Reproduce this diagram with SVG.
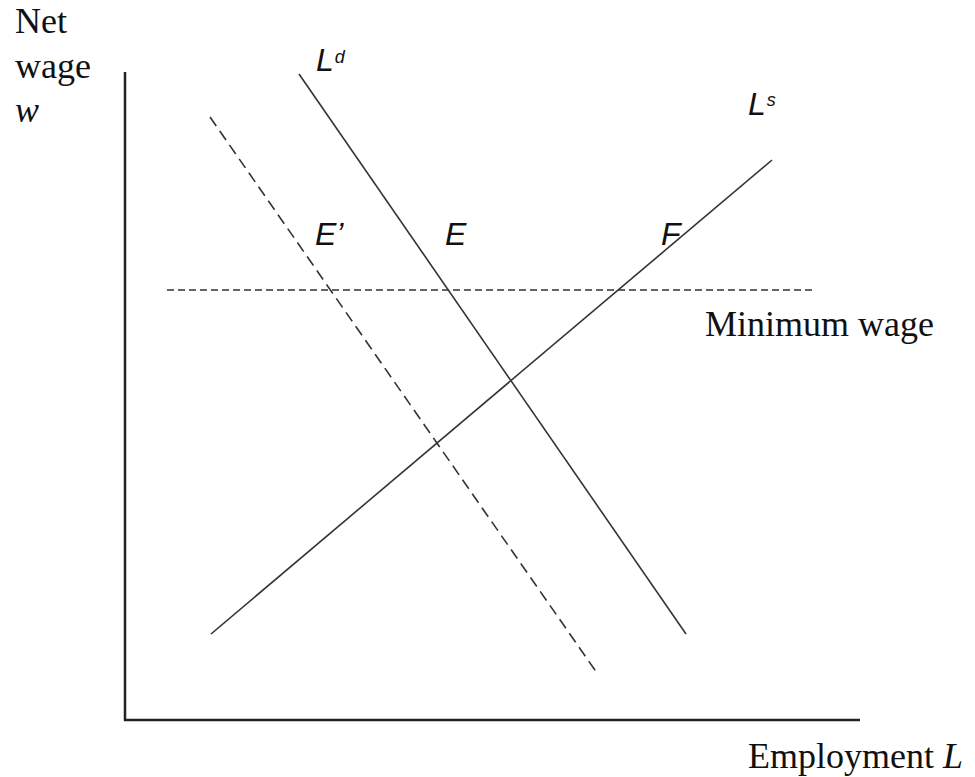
<svg xmlns="http://www.w3.org/2000/svg" width="975" height="777" viewBox="0 0 975 777">
<style>
.serif{font-family:"Liberation Serif","Times New Roman",serif;font-size:36px;fill:#111}
.lab{font-family:"Liberation Sans",Arial,sans-serif;font-style:italic;font-size:32px;fill:#111}
.sup{font-size:18px}
.axis{stroke:#222;stroke-width:2.5;fill:none}
.curve{stroke:#333;stroke-width:1.6;fill:none}
.dash1{stroke:#333;stroke-width:1.6;stroke-dasharray:11 6;fill:none}
.dash2{stroke:#333;stroke-width:1.5;stroke-dasharray:7 4;fill:none}
</style>
<rect width="975" height="777" fill="#fff"/>
<g id="axes">
<line class="axis" x1="125" y1="72" x2="125" y2="721"/>
<line class="axis" x1="124" y1="720" x2="860" y2="720"/>
</g>
<g id="connectors">
<line id="Ld" class="curve" x1="299" y1="74" x2="686" y2="634"/>
<line id="Ld2" class="dash1" x1="210" y1="117" x2="597" y2="673"/>
<line id="Ls" class="curve" x1="211" y1="634" x2="772" y2="160"/>
<line id="minwage" class="dash2" x1="167" y1="290" x2="816" y2="290"/>
</g>
<g id="ylabel">
<text class="serif" x="15" y="33">Net</text>
<text class="serif" x="15" y="78">wage</text>
<text class="serif" x="15" y="122" font-style="italic">w</text>
</g>
<g id="xlabel"><text class="serif" x="748" y="768">Employment <tspan font-style="italic">L</tspan></text></g>
<g id="minlabel"><text class="serif" x="705" y="336">Minimum wage</text></g>
<g id="Ld-label"><text class="lab" x="316" y="71">L<tspan class="sup" dx="1" dy="-8">d</tspan></text></g>
<g id="Ls-label"><text class="lab" x="748" y="115">L<tspan class="sup" dx="1" dy="-9">s</tspan></text></g>
<g id="Eprime"><text class="lab" x="315" y="245">E’</text></g>
<g id="E"><text class="lab" x="445" y="245">E</text></g>
<g id="F"><text class="lab" x="661" y="245">F</text></g>
</svg>
